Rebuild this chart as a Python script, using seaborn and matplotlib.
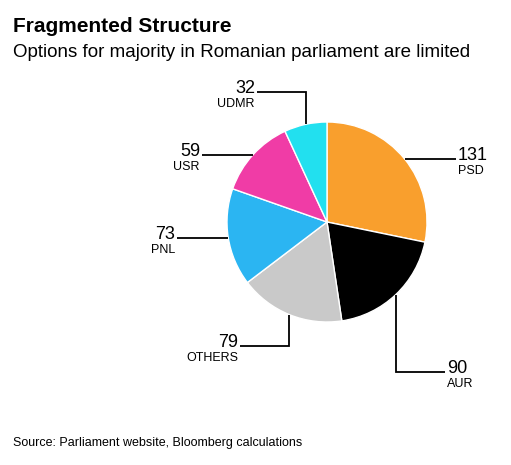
import numpy as np
import matplotlib.pyplot as plt
import seaborn as sns

# seats per party, clockwise from the top
parties = ['PSD', 'AUR', 'OTHERS', 'PNL', 'USR', 'UDMR']
seats = [131, 90, 79, 73, 59, 32]
colors = ['#F99F2D', '#000000', '#C9C9C9', '#2BB5F2', '#F03CA6', '#22E0EF']

# leader layout: (elbow y in px or None, end x in px, side)
leaders = {
    'PSD': (None, 456, 'right'),
    'AUR': (372, 445, 'right'),
    'OTHERS': (346, 240, 'left'),
    'PNL': (None, 177, 'left'),
    'USR': (None, 202, 'left'),
    'UDMR': (92, 257, 'left'),
}

sns.set_theme(style='white')
plt.rcParams['font.family'] = ['Liberation Sans', 'DejaVu Sans']
plt.rcParams['text.color'] = 'black'

W, H = 511, 465
fig = plt.figure(figsize=(W / 100, H / 100), dpi=100)
ax = fig.add_axes([0, 0, 1, 1])

cx, cy, r = 327, H - 222, 100
ax.pie(seats, colors=colors, startangle=90, counterclock=False,
       center=(cx, cy), radius=r, frame=True,
       wedgeprops=dict(edgecolor='white', linewidth=1))
ax.set_xlim(0, W)
ax.set_ylim(0, H)
ax.set_aspect('equal')
ax.axis('off')

total = sum(seats)
start = 0.0
for name, val in zip(parties, seats):
    frac = val / total * 360
    mid = np.deg2rad(start + frac / 2)
    start += frac
    x0 = cx + r * np.sin(mid)
    y0 = cy + r * np.cos(mid)
    elbow, xend, side = leaders[name]
    if elbow is None:
        xs, ys = [x0, xend], [y0, y0]
        yl = y0
    else:
        yl = H - elbow
        xs, ys = [x0, x0, xend], [y0, yl, yl]
    ax.plot(xs, ys, color='black', lw=1.3, solid_capstyle='butt', solid_joinstyle='miter')
    if side == 'right':
        tx, ha = xend + 2, 'left'
    else:
        tx, ha = xend - 2, 'right'
    ax.text(tx, yl - 1, str(val), ha=ha, va='baseline', fontsize=13, color='black')
    ax.text(tx, yl - 6, name, ha=ha, va='top', fontsize=9, color='black')

fig.text(13 / W, 1 - 32 / H, 'Fragmented Structure', fontsize=15, fontweight='bold',
         va='baseline', ha='left')
fig.text(13 / W, 1 - 57 / H, 'Options for majority in Romanian parliament are limited',
         fontsize=13.5, va='baseline', ha='left')
fig.text(13 / W, 1 - 446 / H, 'Source: Parliament website, Bloomberg calculations',
         fontsize=9, va='baseline', ha='left')

fig.savefig('out.png', dpi=100, facecolor='white')
